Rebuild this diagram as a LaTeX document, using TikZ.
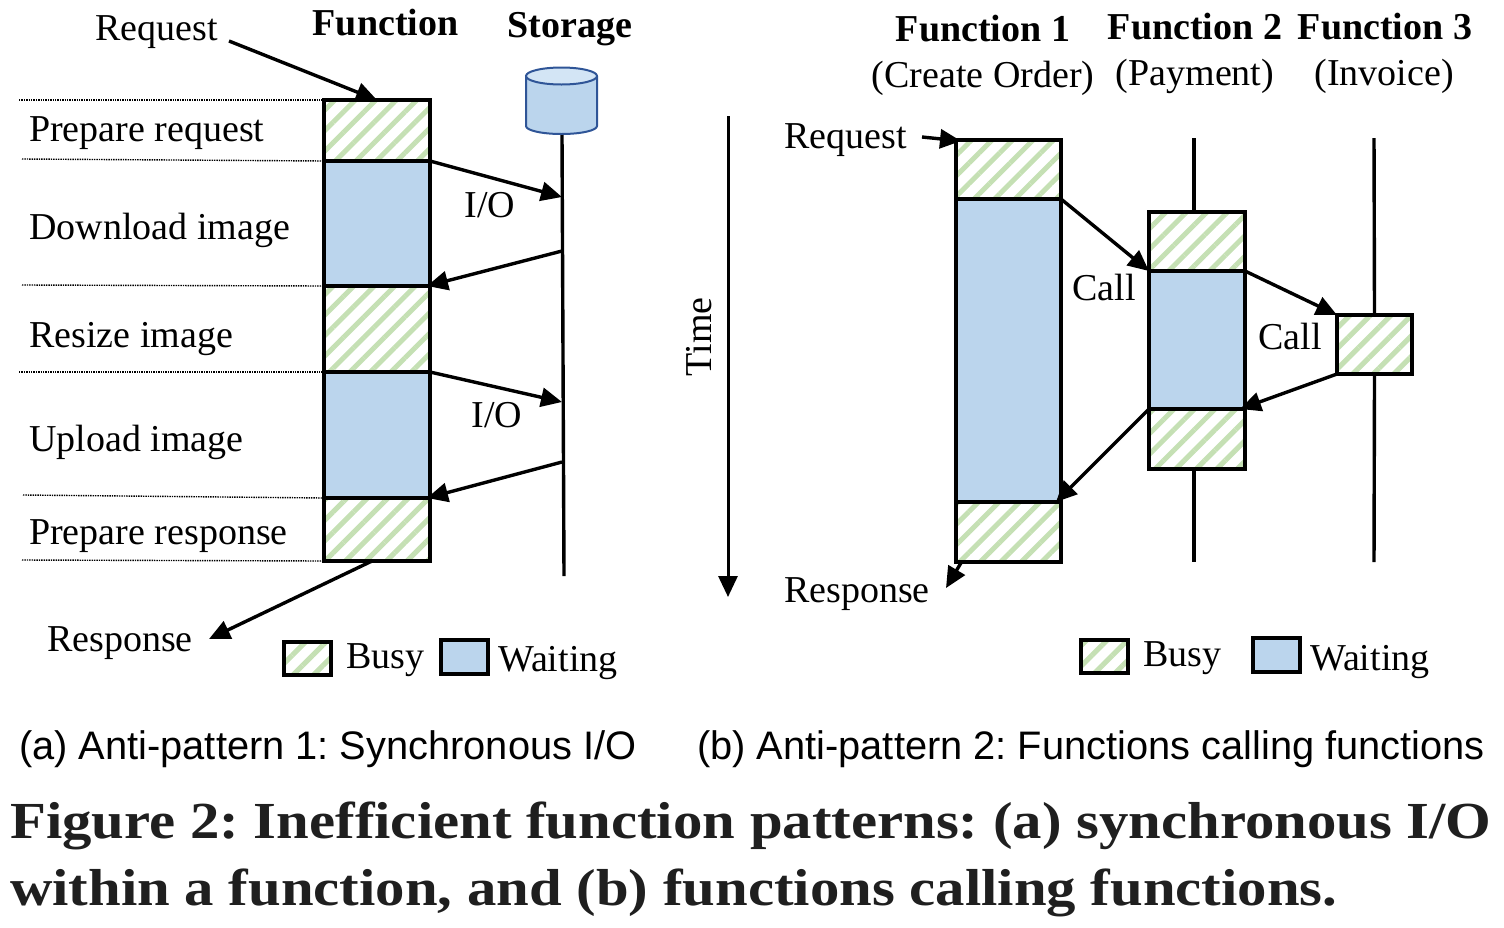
\documentclass[tikz,border=0pt]{standalone}
\usepackage{fontspec}
\setmainfont{Liberation Serif}
\setsansfont{Liberation Sans}
\newfontfamily\figfont[FakeStretch=1.13]{Liberation Serif}
\usepackage{tikz}
\usetikzlibrary{arrows.meta,patterns.meta}
\definecolor{busygreen}{HTML}{C5E0B4}
\definecolor{waitblue}{HTML}{BBD5ED}
\definecolor{cylblue}{HTML}{2F5597}
\definecolor{cyltop}{HTML}{D3E5F5}
\tikzset{
  box/.style={draw,line width=3.8pt,outer sep=0pt,inner sep=0pt},
  busy/.style={box,pattern={Lines[angle=45,distance=14.5pt,line width=5pt]},pattern color=busygreen},
  waiting/.style={box,fill=waitblue},
  lbl/.style={anchor=base west,inner sep=0pt,font=\fontsize{38}{38}\selectfont},
  head/.style={anchor=base,inner sep=0pt,font=\fontsize{38}{38}\selectfont},
  headb/.style={head,font=\fontsize{38}{38}\selectfont\bfseries},
  subcap/.style={anchor=base west,inner sep=0pt,font=\fontsize{39.8}{40}\selectfont\sffamily\frenchspacing},
  figcap/.style={anchor=base west,inner sep=0pt,text=black!88,font=\fontsize{52}{52}\selectfont\figfont\bfseries\frenchspacing},
  link/.style={line width=3.4pt,-{Triangle[length=21pt,width=19pt]}},
  life/.style={line width=3.4pt},
  level/.style={densely dotted,line width=1.4pt},
}
\begin{document}
\begin{tikzpicture}[x=1pt,y=-1pt]
 \useasboundingbox (0,0) rectangle (1504,927);
 % function boxes (a)
 \node[busy,minimum width=106pt,minimum height=61pt] (prep) at (377,130.5) {};
 \node[waiting,minimum width=106pt,minimum height=125pt] (down) at (377,223.5) {};
 \node[busy,minimum width=106pt,minimum height=86pt] (resize) at (377,329) {};
 \node[waiting,minimum width=106pt,minimum height=126pt] (up) at (377,435) {};
 \node[busy,minimum width=106pt,minimum height=63pt] (resp) at (377,529.5) {};
 % storage
 \fill[waitblue] (526,76) -- (526,126) .. controls (526,130.5) and (542,134) .. (561.5,134)
   .. controls (581,134) and (597,130.5) .. (597,126) -- (597,76) -- cycle;
 \draw[cylblue,line width=2pt] (526,76) -- (526,126) .. controls (526,130.5) and (542,134) .. (561.5,134)
   .. controls (581,134) and (597,130.5) .. (597,126) -- (597,76);
 \draw[cylblue,line width=2pt,fill=cyltop] (561.5,76) ellipse [x radius=35.5pt,y radius=8.5pt];
 \coordinate (store) at (562,135);
 \coordinate (storeend) at (564,576);
 \draw[life] (store) -- (storeend);
 % levels
 \coordinate (l1) at (19,100);
 \coordinate (l2) at (22,159);
 \coordinate (l3) at (22,285);
 \coordinate (l4) at (19,372);
 \coordinate (l5) at (23,495);
 \coordinate (l6) at (22,560);
 \draw[level] (l1) -- (prep.north west);
 \draw[level] (l2) -- (prep.south west);
 \draw[level] (l3) -- (down.south west);
 \draw[level] (l4) -- (resize.south west);
 \draw[level] (l5) -- (up.south west);
 \draw[level] (l6) -- (resp.south west);
 % arrows (a)
 \coordinate (reqa) at (229,41);
 \coordinate (respa) at (209,639);
 \coordinate (io1) at (562,197);
 \coordinate (io2) at (562,251);
 \coordinate (io3) at (562,402);
 \coordinate (io4) at (562,462);
 \draw[link] (reqa) -- (prep.north);
 \draw[link] (prep.south east) -- (io1);
 \draw[link] (io2) -- ([xshift=-3pt]down.south east);
 \draw[link] (resize.south east) -- (io3);
 \draw[link] (io4) -- ([xshift=-3pt]up.south east);
 \draw[link] ([xshift=-5pt]resp.south) -- (respa);
 % labels (a)
 \node[lbl] (reqlbl) at (95,40) {Request};
 \node[headb] (fnlbl) at (385.5,35) {Function};
 \node[headb] (stlbl) at (570,37) {Storage};
 \node[lbl] (t1) at (29,141) {Prepare request};
 \node[lbl] (t2) at (29,239) {Download image};
 \node[lbl] (t3) at (29,347) {Resize image};
 \node[lbl] (t4) at (29,451) {Upload image};
 \node[lbl] (t5) at (29,544) {Prepare response};
 \node[lbl] (t6) at (47,651) {Response};
 \node[head] (io1lbl) at (490,217) {I/O};
 \node[head] (io2lbl) at (497,427) {I/O};
 % legend (a)
 \node[busy,minimum width=47pt,minimum height=33pt] (lega) at (307.5,658.5) {};
 \node[lbl] (legat) at (346,668) {Busy};
 \node[waiting,minimum width=47pt,minimum height=34pt] (legb) at (464.5,657) {};
 \node[lbl] (legbt) at (498,671) {Waiting};
 % time
 \coordinate (t0) at (728,116);
 \coordinate (t1e) at (728,597);
 \draw[link,line width=3pt] (t0) -- (t1e);
 \node[head,rotate=90] (timelbl) at (711,337) {Time};
 % function boxes (b)
 \node[busy,minimum width=105pt,minimum height=59pt] (fa) at (1008.5,169.5) {};
 \node[waiting,minimum width=105pt,minimum height=303pt] (fb) at (1008.5,350.5) {};
 \node[busy,minimum width=105pt,minimum height=60pt] (fc) at (1008.5,532) {};
 \node[busy,minimum width=96pt,minimum height=59pt] (ga) at (1197,241.5) {};
 \node[waiting,minimum width=96pt,minimum height=138pt] (gb) at (1197,340) {};
 \node[busy,minimum width=96pt,minimum height=60pt] (gc) at (1197,439) {};
 \node[busy,minimum width=75pt,minimum height=59pt] (ha) at (1374.5,344.5) {};
 % lifelines
 \coordinate (gtop) at (1194,138);
 \coordinate (gend) at (1194,562);
 \coordinate (htop) at (1374,138);
 \coordinate (hend) at (1374,562);
 \draw[life] (gtop) -- (gtop |- ga.north);
 \draw[life] (gtop |- gc.south) -- (gend);
 \draw[life] (htop) -- (ha.north);
 \draw[life] (ha.south) -- (hend);
 % arrows (b)
 \coordinate (reqb) at (922,137);
 \coordinate (respb) at (946,588);
 \draw[link] (reqb) -- ([xshift=5pt,yshift=-1pt]fa.north west);
 \draw[link] (fa.south east) -- (ga.south west);
 \draw[link] (ga.south east) -- (ha.north west);
 \draw[link] (ha.south west) -- ([xshift=-5pt]gb.south east);
 \draw[link] (gb.south west) -- ([xshift=-5pt]fb.south east);
 \draw[link] ([xshift=-47pt]fc.south) -- (respb);
 % labels (b)
 \node[headb] (f1) at (983,41) {Function 1};
 \node[head] (f1s) at (983,87) {(Create Order)};
 \node[headb] (f2) at (1195,39) {Function 2};
 \node[head] (f2s) at (1195,85) {(Payment)};
 \node[headb] (f3) at (1385,39) {Function 3};
 \node[head] (f3s) at (1384,85) {(Invoice)};
 \node[lbl] (reqblbl) at (784,148) {Request};
 \node[lbl] (respblbl) at (784,602) {Response};
 \node[head] (call1) at (1104,300) {Call};
 \node[head] (call2) at (1290,349) {Call};
 % legend (b)
 \node[busy,minimum width=47pt,minimum height=33pt] (legc) at (1104.5,656.5) {};
 \node[lbl] (legct) at (1143,666) {Busy};
 \node[waiting,minimum width=47pt,minimum height=34pt] (legd) at (1276.5,655) {};
 \node[lbl] (legdt) at (1310,670) {Waiting};
 % captions
 \node[subcap] (capa) at (19,759) {(a) Anti-pattern 1: Synchronous I/O};
 \node[subcap] (capb) at (697,759) {(b) Anti-pattern 2: Functions calling functions};
 \node[figcap] (figa) at (10,838) {Figure 2: Inefficient function patterns: (a) synchronous I/O};
 \node[figcap] (figb) at (10,905) {within a function, and (b) functions calling functions.};
\end{tikzpicture}
\end{document}
